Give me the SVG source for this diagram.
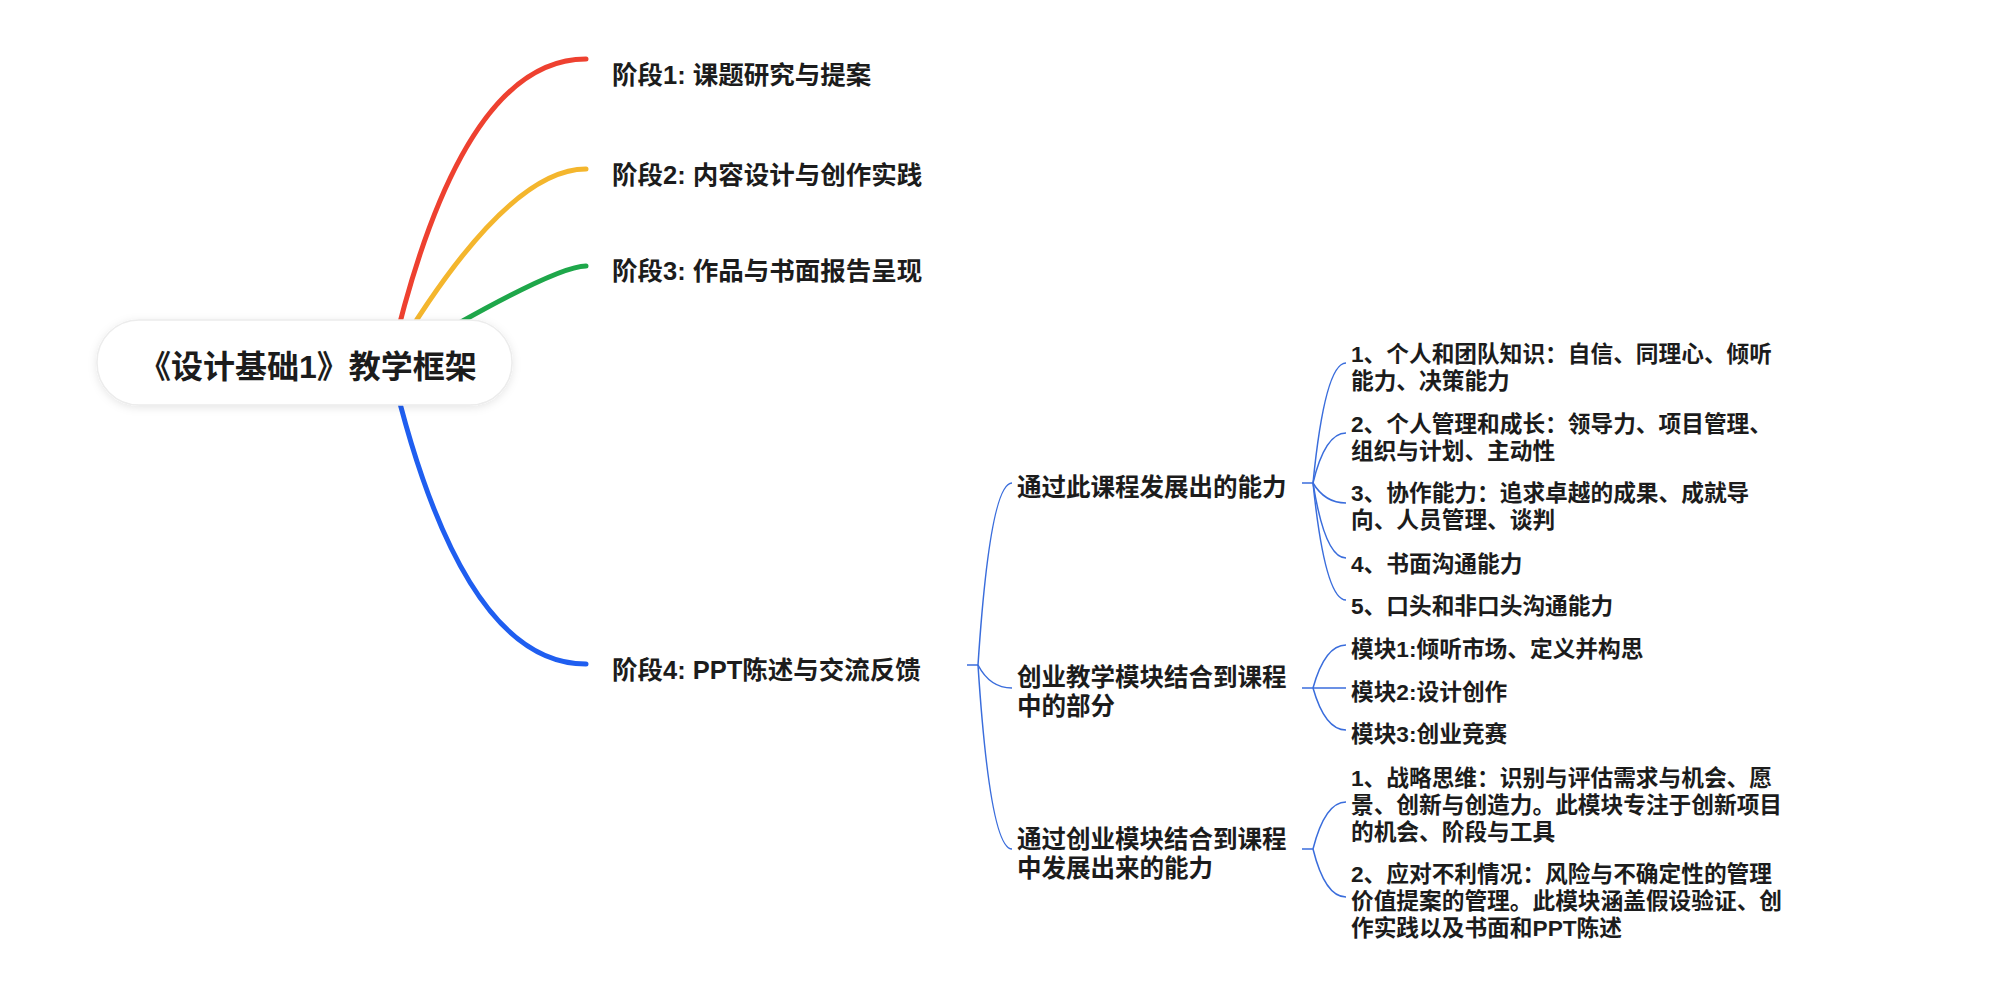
<svg xmlns="http://www.w3.org/2000/svg" width="2000" height="983" viewBox="0 0 2000 983">
<defs>
<style>
text { font-family: "Liberation Sans", "Noto Sans CJK SC", sans-serif; font-weight: bold; fill: #1c1c1c; }
.t0 { font-size: 32px; }
.t1 { font-size: 25.5px; }
.t2 { font-size: 24.5px; }
.t3 { font-size: 22.7px; }
.main { fill: none; stroke-width: 5; stroke-linecap: round; }
.sub { fill: none; stroke: #3a6ddc; stroke-width: 1.5; }
</style>
<filter id="sh" x="-10%" y="-30%" width="120%" height="160%">
<feDropShadow dx="0" dy="2" stdDeviation="4" flood-color="#000" flood-opacity="0.10"/>
</filter>
</defs>
<rect width="2000" height="983" fill="#ffffff"/>
<g id="connectors">
<path class="main" stroke="#EE4130" d="M390,363 Q460,59 586,59"/>
<path class="main" stroke="#F4B62D" d="M390,363 Q505,169 586,169"/>
<path class="main" stroke="#1EA74A" d="M390,363 Q553,266 586,266"/>
<path class="main" stroke="#1F5EF0" d="M390,363 Q460,664 586,664"/>
<path class="sub" d="M967,665 H978"/>
<path class="sub" d="M978,665 Q990,483 1012,483"/>
<path class="sub" d="M978,665 Q990,688 1012,688"/>
<path class="sub" d="M978,665 Q990,849 1012,849"/>
<path class="sub" d="M1302,483 H1313"/>
<path class="sub" d="M1313,483 Q1325,363 1346,363"/>
<path class="sub" d="M1313,483 Q1325,433 1346,433"/>
<path class="sub" d="M1313,483 Q1325,503 1346,503"/>
<path class="sub" d="M1313,483 Q1325,558 1346,558"/>
<path class="sub" d="M1313,483 Q1325,600 1346,600"/>
<path class="sub" d="M1302,688 H1346"/>
<path class="sub" d="M1313,688 Q1325,645 1346,645"/>
<path class="sub" d="M1313,688 Q1325,730 1346,730"/>
<path class="sub" d="M1302,849 H1313"/>
<path class="sub" d="M1313,849 Q1325,802 1346,802"/>
<path class="sub" d="M1313,849 Q1325,897 1346,897"/>
</g>
<g id="root">
<rect x="97" y="320" width="415" height="85" rx="42" fill="#ffffff" stroke="#ececec" stroke-width="1.5" filter="url(#sh)"/>
<text class="t0" x="139" y="378">《设计基础1》教学框架</text>
</g>
<g id="stage1"><text class="t1" x="612" y="84">阶段1: 课题研究与提案</text></g>
<g id="stage2"><text class="t1" x="612" y="184">阶段2: 内容设计与创作实践</text></g>
<g id="stage3"><text class="t1" x="612" y="280">阶段3: 作品与书面报告呈现</text></g>
<g id="stage4"><text class="t1" x="612" y="679">阶段4: PPT陈述与交流反馈</text></g>
<g id="ability"><text class="t2" x="1017" y="496">通过此课程发展出的能力</text></g>
<g id="module"><text class="t2" x="1017" y="686">创业教学模块结合到课程<tspan x="1017" y="714.5">中的部分</tspan></text></g>
<g id="entre"><text class="t2" x="1017" y="848">通过创业模块结合到课程<tspan x="1017" y="876.5">中发展出来的能力</tspan></text></g>
<g id="a1"><text class="t3" x="1351" y="362">1、个人和团队知识：自信、同理心、倾听<tspan x="1351" y="389">能力、决策能力</tspan></text></g>
<g id="a2"><text class="t3" x="1351" y="432">2、个人管理和成长：领导力、项目管理、<tspan x="1351" y="459">组织与计划、主动性</tspan></text></g>
<g id="a3"><text class="t3" x="1351" y="501">3、协作能力：追求卓越的成果、成就导<tspan x="1351" y="528">向、人员管理、谈判</tspan></text></g>
<g id="a4"><text class="t3" x="1351" y="572">4、书面沟通能力</text></g>
<g id="a5"><text class="t3" x="1351" y="614">5、口头和非口头沟通能力</text></g>
<g id="m1"><text class="t3" x="1351" y="657">模块1:倾听市场、定义并构思</text></g>
<g id="m2"><text class="t3" x="1351" y="700">模块2:设计创作</text></g>
<g id="m3"><text class="t3" x="1351" y="742">模块3:创业竞赛</text></g>
<g id="s1"><text class="t3" x="1351" y="786">1、战略思维：识别与评估需求与机会、愿<tspan x="1351" y="813">景、创新与创造力。此模块专注于创新项目</tspan><tspan x="1351" y="840">的机会、阶段与工具</tspan></text></g>
<g id="s2"><text class="t3" x="1351" y="882">2、应对不利情况：风险与不确定性的管理<tspan x="1351" y="909">价值提案的管理。此模块涵盖假设验证、创</tspan><tspan x="1351" y="936">作实践以及书面和PPT陈述</tspan></text></g>
</svg>
